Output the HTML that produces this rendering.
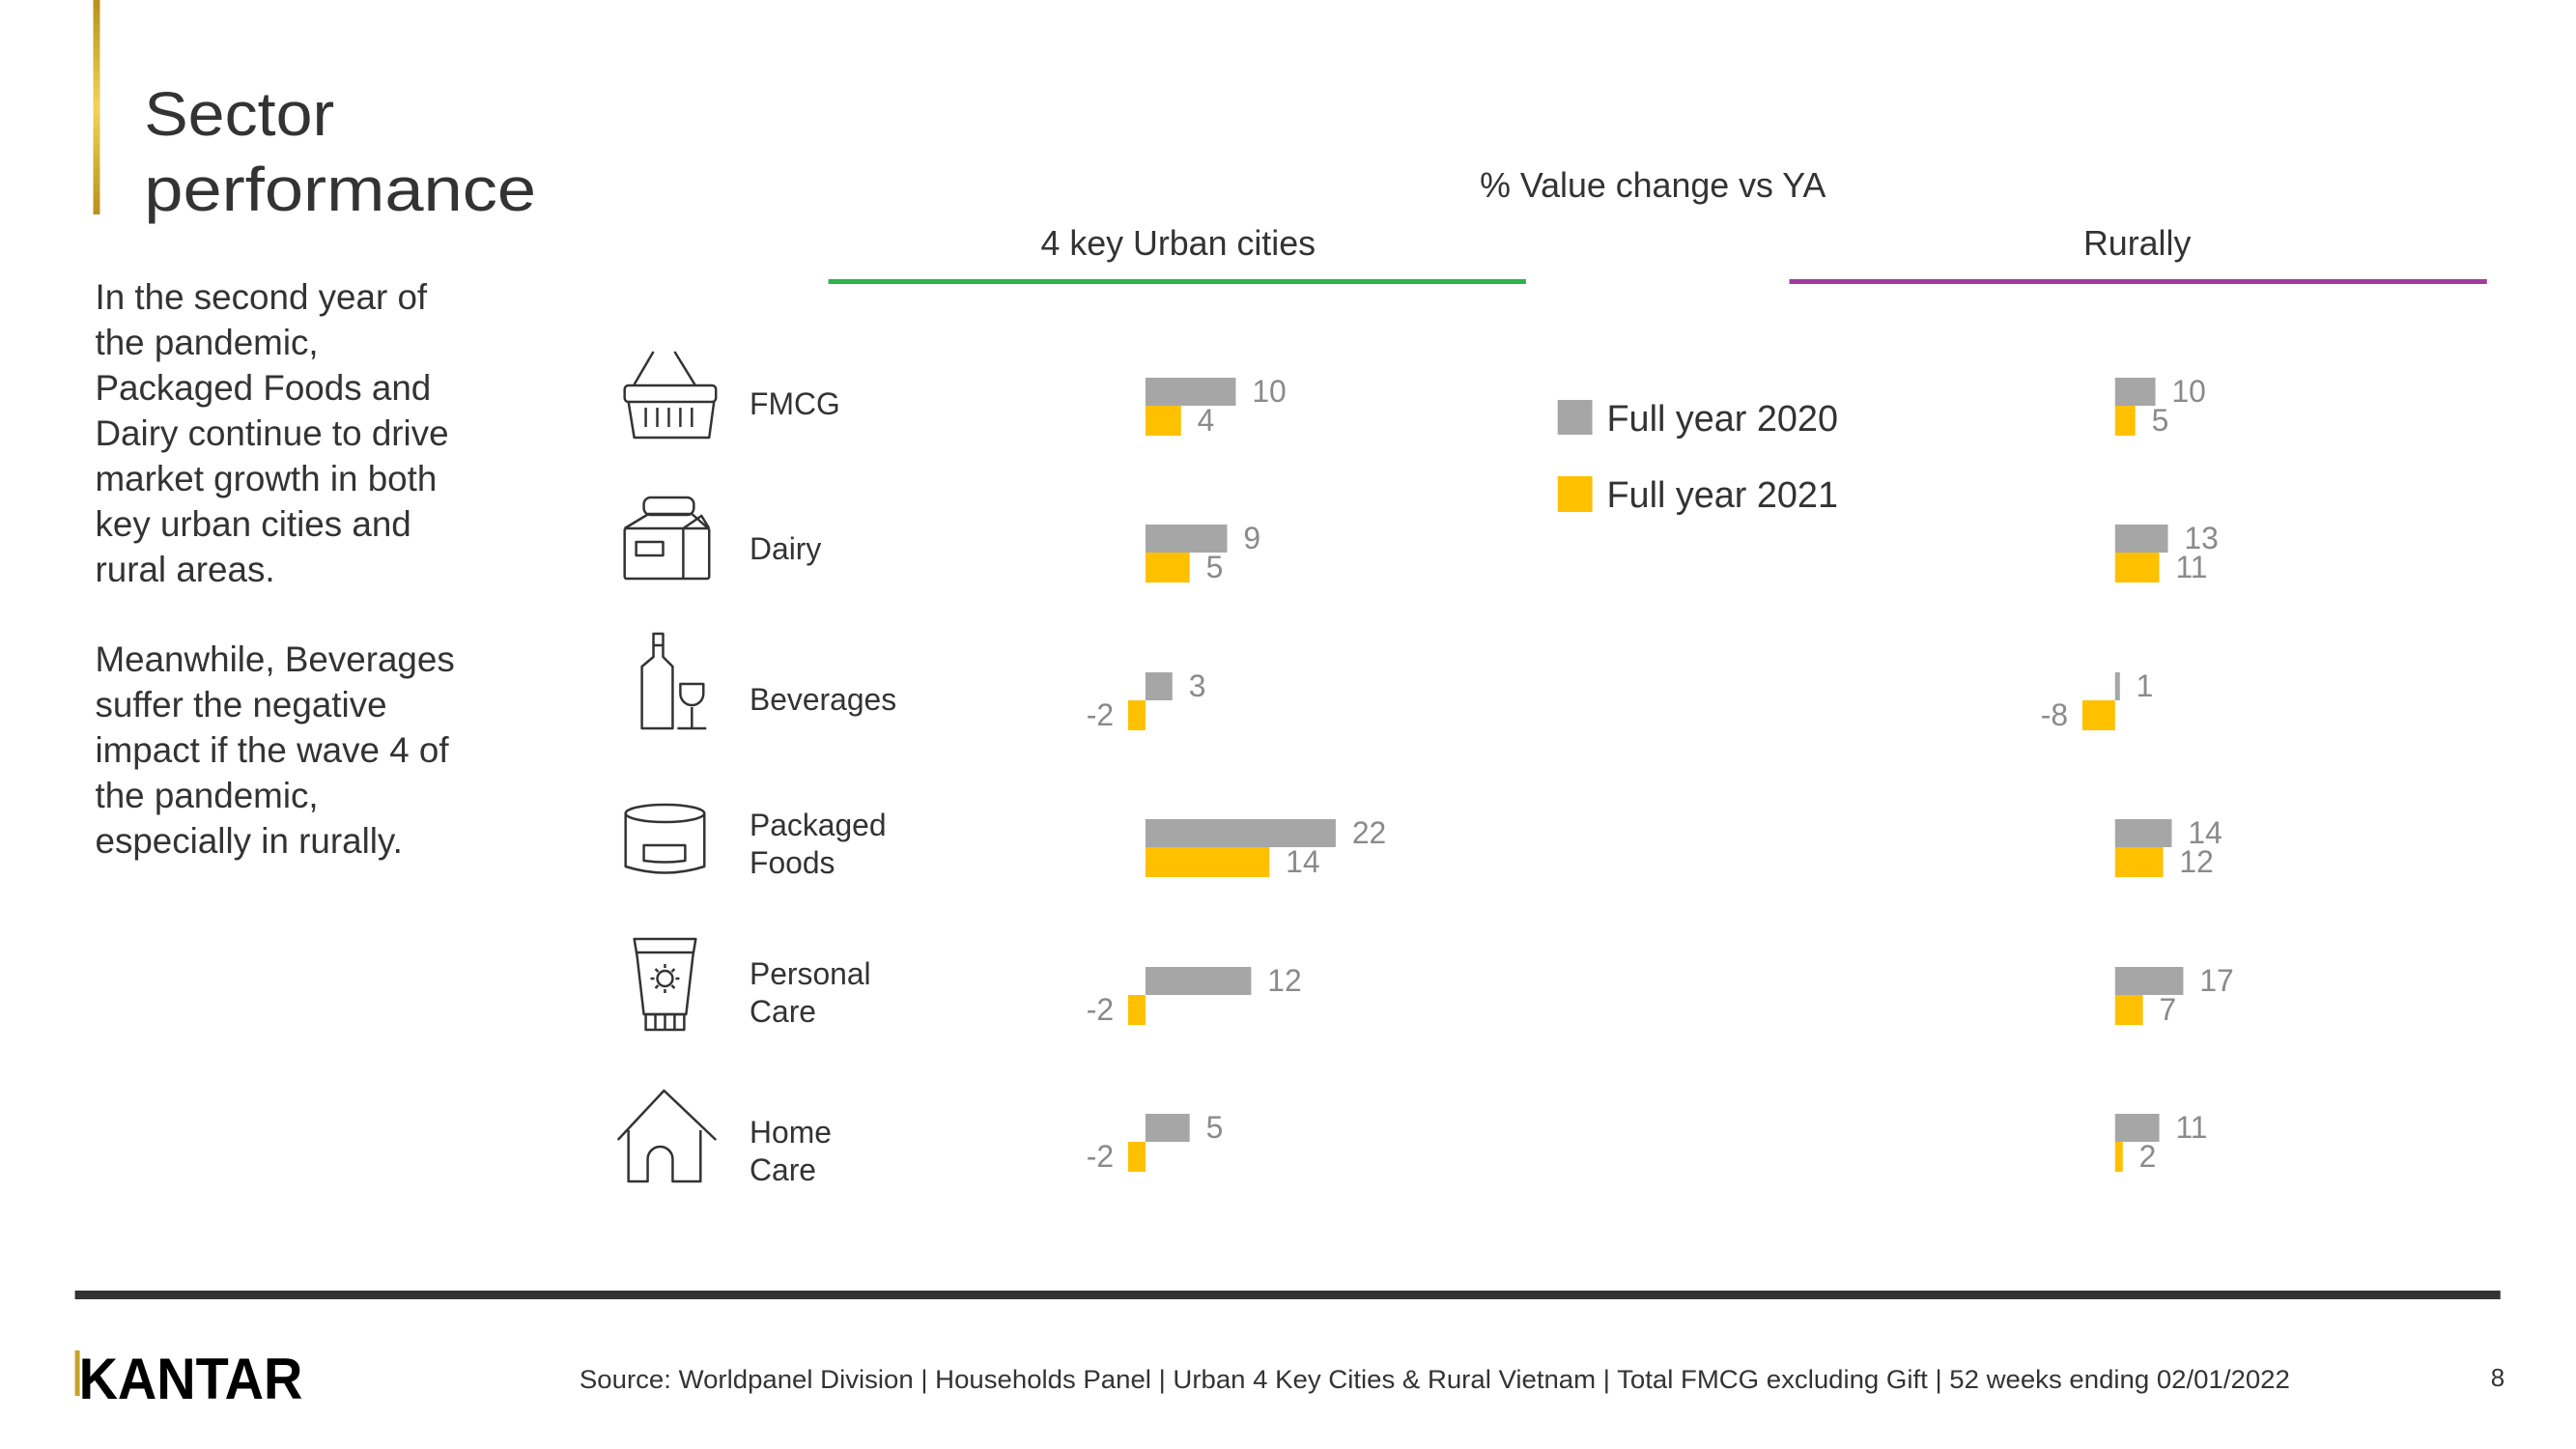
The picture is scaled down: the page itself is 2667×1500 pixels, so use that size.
<!DOCTYPE html>
<html><head><meta charset="utf-8"><style>
html,body{margin:0;padding:0;background:#fff}
svg{display:block}
text{font-family:"Liberation Sans",sans-serif}
</style></head><body>
<svg width="2667" height="1500" viewBox="0 0 2667 1500" xmlns="http://www.w3.org/2000/svg">
<defs><linearGradient id="g" x1="0" y1="0" x2="0" y2="1"><stop offset="0" stop-color="#b8901e"/><stop offset="0.5" stop-color="#f3d35a"/><stop offset="1" stop-color="#b8901e"/></linearGradient></defs>
<g transform="scale(0.9949,1)">
<rect x="97" y="0" width="7" height="222" fill="url(#g)"/>
<g fill="#333">
<text x="150" y="140" font-size="64" textLength="198" lengthAdjust="spacingAndGlyphs">Sector</text>
<text x="150" y="218" font-size="64" textLength="408" lengthAdjust="spacingAndGlyphs">performance</text>
<g font-size="37">
<text x="99" y="320">In the second year of</text>
<text x="99" y="367">the pandemic,</text>
<text x="99" y="414">Packaged Foods and</text>
<text x="99" y="461">Dairy continue to drive</text>
<text x="99" y="508">market growth in both</text>
<text x="99" y="555">key urban cities and</text>
<text x="99" y="602">rural areas.</text>
<text x="99" y="695">Meanwhile, Beverages</text>
<text x="99" y="742">suffer the negative</text>
<text x="99" y="789">impact if the wave 4 of</text>
<text x="99" y="836">the pandemic,</text>
<text x="99" y="883">especially in rurally.</text>
</g>
<text x="1720" y="204" font-size="36" text-anchor="middle">% Value change vs YA</text>
<text x="1226" y="264" font-size="36" text-anchor="middle">4 key Urban cities</text>
<text x="2224" y="264" font-size="36" text-anchor="middle">Rurally</text>
</g>
<rect x="862" y="289" width="726" height="5" fill="#2db34a"/>
<rect x="1862" y="289" width="726" height="5" fill="#a33aa0"/>
<g fill="#333" font-size="32">
<text x="780" y="429">FMCG</text>
<text x="780" y="579">Dairy</text>
<text x="780" y="735">Beverages</text>
<text x="780" y="865">Packaged</text>
<text x="780" y="904">Foods</text>
<text x="780" y="1019">Personal</text>
<text x="780" y="1058">Care</text>
<text x="780" y="1183">Home</text>
<text x="780" y="1222">Care</text>
</g>
<rect x="1621" y="414" width="36" height="36" fill="#a6a6a6"/>
<rect x="1621" y="493" width="36" height="37" fill="#ffc000"/>
<text x="1672" y="446" font-size="38" fill="#333">Full year 2020</text>
<text x="1672" y="525" font-size="38" fill="#333">Full year 2021</text>
<g transform="translate(4,0)">
<rect x="1188" y="391" width="94" height="29" fill="#a6a6a6"/><rect x="1188" y="420" width="37" height="31" fill="#ffc000"/>
<rect x="1188" y="543" width="85" height="29" fill="#a6a6a6"/><rect x="1188" y="572" width="46" height="31" fill="#ffc000"/>
<rect x="1188" y="696" width="28" height="29" fill="#a6a6a6"/><rect x="1170" y="725" width="18" height="31" fill="#ffc000"/>
<rect x="1188" y="848" width="198" height="29" fill="#a6a6a6"/><rect x="1188" y="877" width="129" height="31" fill="#ffc000"/>
<rect x="1188" y="1001" width="110" height="29" fill="#a6a6a6"/><rect x="1170" y="1030" width="18" height="31" fill="#ffc000"/>
<rect x="1188" y="1153" width="46" height="29" fill="#a6a6a6"/><rect x="1170" y="1182" width="18" height="31" fill="#ffc000"/>
<g fill="#8a8a8a" font-size="32">
<text x="1299" y="416">10</text><text x="1242" y="446">4</text>
<text x="1290" y="568">9</text><text x="1251" y="598">5</text>
<text x="1233" y="721">3</text><text x="1155" y="751" text-anchor="end">-2</text>
<text x="1403" y="873">22</text><text x="1334" y="903">14</text>
<text x="1315" y="1026">12</text><text x="1155" y="1056" text-anchor="end">-2</text>
<text x="1251" y="1178">5</text><text x="1155" y="1208" text-anchor="end">-2</text>
</g>
</g>
<g transform="translate(7,0)">
<rect x="2194" y="391" width="42" height="29" fill="#a6a6a6"/><rect x="2194" y="420" width="21" height="31" fill="#ffc000"/>
<rect x="2194" y="543" width="55" height="29" fill="#a6a6a6"/><rect x="2194" y="572" width="46" height="31" fill="#ffc000"/>
<rect x="2194" y="696" width="5" height="29" fill="#a6a6a6"/><rect x="2160" y="725" width="34" height="31" fill="#ffc000"/>
<rect x="2194" y="848" width="59" height="29" fill="#a6a6a6"/><rect x="2194" y="877" width="50" height="31" fill="#ffc000"/>
<rect x="2194" y="1001" width="71" height="29" fill="#a6a6a6"/><rect x="2194" y="1030" width="29" height="31" fill="#ffc000"/>
<rect x="2194" y="1153" width="46" height="29" fill="#a6a6a6"/><rect x="2194" y="1182" width="8" height="31" fill="#ffc000"/>
<g fill="#8a8a8a" font-size="32">
<text x="2253" y="416">10</text><text x="2232" y="446">5</text>
<text x="2266" y="568">13</text><text x="2257" y="598">11</text>
<text x="2216" y="721">1</text><text x="2145" y="751" text-anchor="end">-8</text>
<text x="2270" y="873">14</text><text x="2261" y="903">12</text>
<text x="2282" y="1026">17</text><text x="2240" y="1056">7</text>
<text x="2257" y="1178">11</text><text x="2219" y="1208">2</text>
</g>
</g>
<g fill="none" stroke="#333" stroke-width="2.5" stroke-linejoin="round">
<path d="M680 364 L660 398 M702 364 L723 398"/>
<rect x="650" y="399" width="95" height="17" rx="4"/>
<path d="M654 416 L660 453 L738 453 L743 416"/>
<path d="M672 422 V442 M684 422 V442 M696 422 V442 M708 422 V442 M720 422 V442"/>
<rect x="670" y="515" width="52" height="18" rx="7"/>
<path d="M650 547 L675 532 L720 532 L737 547 M711 547 L730 534 L738 547"/>
<rect x="650" y="547" width="88" height="52" rx="2"/>
<path d="M711 547 V599"/>
<rect x="662" y="561" width="28" height="14"/>
<path d="M680 656 H690 V680 L700 690 V754 H668 V690 L680 680 Z M680 668 H690"/>
<path d="M705 754 H735 M720 754 V732 M708 708 H732 V718 A12 12 0 0 1 708 718 Z"/>
<ellipse cx="692" cy="842" rx="41" ry="9"/>
<path d="M651 842 V897 Q692 910 733 897 V842"/>
<path d="M670 875 H713 V891 Q692 894 670 891 Z"/>
<path d="M660 972 L663 990 L670 1050 H714 L721 990 L724 972 Z M663 986 H721"/>
<circle cx="692" cy="1013" r="8"/>
<path d="M692 998 V1002 M692 1024 V1028 M677 1013 H681 M703 1013 H707 M682 1003 L685 1006 M699 1020 L702 1023 M702 1003 L699 1006 M685 1020 L682 1023"/>
<path d="M672 1050 H712 V1066 H672 Z M682 1050 V1066 M692 1050 V1066 M702 1050 V1066"/>
<path d="M643 1180 L691 1129 L745 1180"/>
<path d="M654 1170 V1223 H674 V1200 A13 13 0 0 1 700 1200 V1223 H729 V1170"/>
</g>
<rect x="78" y="1336" width="2524" height="9" fill="#333"/>
<text x="82" y="1448" font-size="60" font-weight="bold" fill="#000" textLength="233" lengthAdjust="spacingAndGlyphs">KANTAR</text>
<rect x="78" y="1398" width="5" height="47" fill="#c9a227"/>
<text x="603" y="1437" font-size="27" fill="#333" textLength="1780" lengthAdjust="spacingAndGlyphs">Source: Worldpanel Division | Households Panel | Urban 4 Key Cities &amp; Rural Vietnam | Total FMCG excluding Gift | 52 weeks ending 02/01/2022</text>
<text x="2592" y="1435" font-size="26" fill="#333">8</text>
</g>
</svg>
</body></html>
